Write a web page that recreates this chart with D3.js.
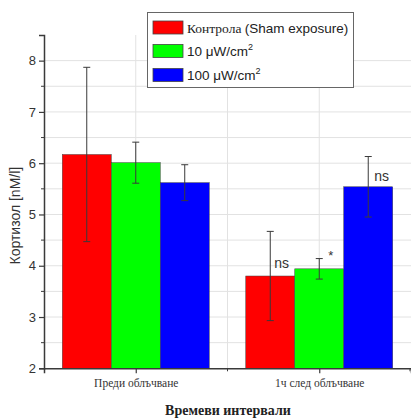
<!DOCTYPE html>
<html>
<head>
<meta charset="utf-8">
<script src="https://cdn.jsdelivr.net/npm/d3@7"></script>
<style>
  html, body { margin: 0; padding: 0; background: #fff; }
  svg { display: block; }
</style>
</head>
<body>
<div id="chart"></div>
<script>
// ---- data ----
const categories = ["Преди облъчване", "1ч след облъчване"];
const seriesNames = ["Контрола", "10 μW/cm", "100 μW/cm"];
const controlValues = [6.17, 3.80];
const controlErrors = [1.70, 0.87];
const low10Values = [6.01, 3.94];
const low10Errors = [0.40, 0.20];
const high100Values = [5.62, 5.54];
const high100Errors = [0.35, 0.59];
const yTicks = [2, 3, 4, 5, 6, 7, 8];
const annotations = [
  { cat: 1, series: 0, text: "ns" },
  { cat: 1, series: 1, text: "*" },
  { cat: 1, series: 2, text: "ns" }
];

// ---- layout ----
const W = 411, H = 418;
const colors = ["#ff0000", "#00ff00", "#0000ff"];
const series = [
  { values: controlValues, errors: controlErrors },
  { values: low10Values, errors: low10Errors },
  { values: high100Values, errors: high100Errors }
];

const svg = d3.select("#chart").append("svg").attr("width", W).attr("height", H);

const x = d3.scaleLinear().domain([0.5, 2.5]).range([44, 411]);
const y = d3.scaleLinear().domain([2, 8.5]).range([368.3, 35]);
const barW = 0.267; // in x units

// grid
const gridY = d3.range(2.5, 8.01, 0.5);
svg.append("g").selectAll("line").data(gridY).join("line")
  .attr("x1", x(0.5)).attr("x2", x(2.5))
  .attr("y1", d => y(d)).attr("y2", d => y(d))
  .attr("stroke", "#e2e2e2").attr("stroke-width", 1);
const gridX = [1, 1.5, 2];
svg.append("g").selectAll("line").data(gridX).join("line")
  .attr("x1", d => x(d)).attr("x2", d => x(d))
  .attr("y1", y(8.5)).attr("y2", y(2))
  .attr("stroke", "#e2e2e2").attr("stroke-width", 1);

// bars
const barData = [];
series.forEach((s, si) => {
  s.values.forEach((v, ci) => {
    barData.push({ si, ci, v, e: s.errors[ci], xc: (ci + 1) + (si - 1) * barW });
  });
});
svg.append("g").selectAll("rect").data(barData).join("rect")
  .attr("x", d => x(d.xc - barW / 2))
  .attr("width", d => x(d.xc + barW / 2) - x(d.xc - barW / 2))
  .attr("y", d => y(d.v))
  .attr("height", d => y(2) - y(d.v))
  .attr("fill", d => colors[d.si])
  .attr("stroke", "#444").attr("stroke-width", 0.5);

// error bars
const eg = svg.append("g").attr("stroke", "#3a3a3a").attr("stroke-width", 1);
barData.forEach(d => {
  const cx = x(d.xc);
  eg.append("line").attr("x1", cx).attr("x2", cx).attr("y1", y(d.v + d.e)).attr("y2", y(d.v - d.e));
  eg.append("line").attr("x1", cx - 3.5).attr("x2", cx + 3.5).attr("y1", y(d.v + d.e)).attr("y2", y(d.v + d.e));
  eg.append("line").attr("x1", cx - 3.5).attr("x2", cx + 3.5).attr("y1", y(d.v - d.e)).attr("y2", y(d.v - d.e));
});

// annotations
annotations.forEach(a => {
  const d = barData.find(b => b.ci === a.cat && b.si === a.series);
  const cx = x(d.xc);
  if (a.text === "*") {
    svg.append("text").attr("x", cx + 9).attr("y", y(d.v + d.e) + 1)
      .attr("font-family", "Liberation Sans, Arial, sans-serif").attr("font-size", 13)
      .attr("fill", "#333").text(a.text);
  } else if (a.series === 0) {
    svg.append("text").attr("x", cx + 4).attr("y", y(d.v) - 8)
      .attr("font-family", "Liberation Sans, Arial, sans-serif").attr("font-size", 14)
      .attr("fill", "#333").text(a.text);
  } else {
    svg.append("text").attr("x", cx + 6).attr("y", y(d.v) - 6)
      .attr("font-family", "Liberation Sans, Arial, sans-serif").attr("font-size", 14)
      .attr("fill", "#333").text(a.text);
  }
});

// y axis
const yAxis = d3.axisLeft(y).tickValues(yTicks).tickSize(5).tickPadding(3).tickFormat(d3.format("d"));
const yg = svg.append("g").attr("transform", `translate(${x(0.5)},0)`).call(yAxis);
yg.select(".domain").attr("stroke", "#3a3a3a").attr("stroke-width", 1.5);
yg.selectAll(".tick line").attr("stroke", "#3a3a3a").attr("stroke-width", 1.2);
yg.selectAll(".tick text").attr("font-family", "Liberation Sans, Arial, sans-serif")
  .attr("font-size", 13).attr("fill", "#333");
// minor y ticks
const yMinor = d3.range(2.5, 8.01, 1);
svg.append("g").selectAll("line").data(yMinor).join("line")
  .attr("x1", x(0.5) - 3).attr("x2", x(0.5))
  .attr("y1", d => y(d)).attr("y2", d => y(d))
  .attr("stroke", "#3a3a3a").attr("stroke-width", 1);

// x axis
const xAxis = d3.axisBottom(x).tickValues([1, 2]).tickSize(5).tickPadding(6).tickFormat((d, i) => categories[i]);
const xg = svg.append("g").attr("transform", `translate(0,${y(2)})`).call(xAxis);
xg.select(".domain").attr("stroke", "#3a3a3a").attr("stroke-width", 1.5);
xg.selectAll(".tick line").attr("stroke", "#3a3a3a").attr("stroke-width", 1.2);
xg.selectAll(".tick text").attr("font-family", "Liberation Serif, Times New Roman, serif")
  .attr("font-size", 11.5).attr("fill", "#333");
svg.append("g").selectAll("line").data([1.5, 2.5]).join("line")
  .attr("x1", d => Math.min(x(d), 410)).attr("x2", d => Math.min(x(d), 410))
  .attr("y1", y(2)).attr("y2", y(2) + 3)
  .attr("stroke", "#3a3a3a").attr("stroke-width", 1);

// axis titles
svg.append("text")
  .attr("transform", `translate(20,${(y(2) + y(8.5)) / 2 + 14}) rotate(-90)`)
  .attr("text-anchor", "middle")
  .attr("font-family", "Liberation Sans, Arial, sans-serif").attr("font-size", 14)
  .attr("fill", "#333").text("Кортизол [nM/l]");
svg.append("text")
  .attr("x", 228).attr("y", 415)
  .attr("text-anchor", "middle")
  .attr("font-family", "Liberation Serif, Times New Roman, serif").attr("font-size", 14)
  .attr("font-weight", "bold").attr("fill", "#222").text("Времеви интервали");

// legend
const lg = svg.append("g");
lg.append("rect").attr("x", 147.5).attr("y", 12.5).attr("width", 206).attr("height", 75)
  .attr("fill", "#fff").attr("stroke", "#666").attr("stroke-width", 1);
const rowY = [27.5, 51, 75];
seriesNames.forEach((name, i) => {
  lg.append("rect").attr("x", 153).attr("y", rowY[i] - 6.5).attr("width", 30).attr("height", 13)
    .attr("fill", colors[i]).attr("stroke", "#444").attr("stroke-width", 0.8);
  const t = lg.append("text").attr("x", 187).attr("y", rowY[i] + 5)
    .attr("font-size", 13.5).attr("fill", "#222");
  if (i === 0) {
    t.append("tspan").attr("font-family", "Liberation Serif, Times New Roman, serif").text(name + " ");
    t.append("tspan").attr("font-family", "Liberation Sans, Arial, sans-serif").text("(Sham exposure)");
  } else {
    t.attr("font-family", "Liberation Sans, Arial, sans-serif");
    t.append("tspan").text(name);
    t.append("tspan").attr("font-size", 9).attr("dy", -6).text("2");
  }
});
</script>
</body>
</html>
